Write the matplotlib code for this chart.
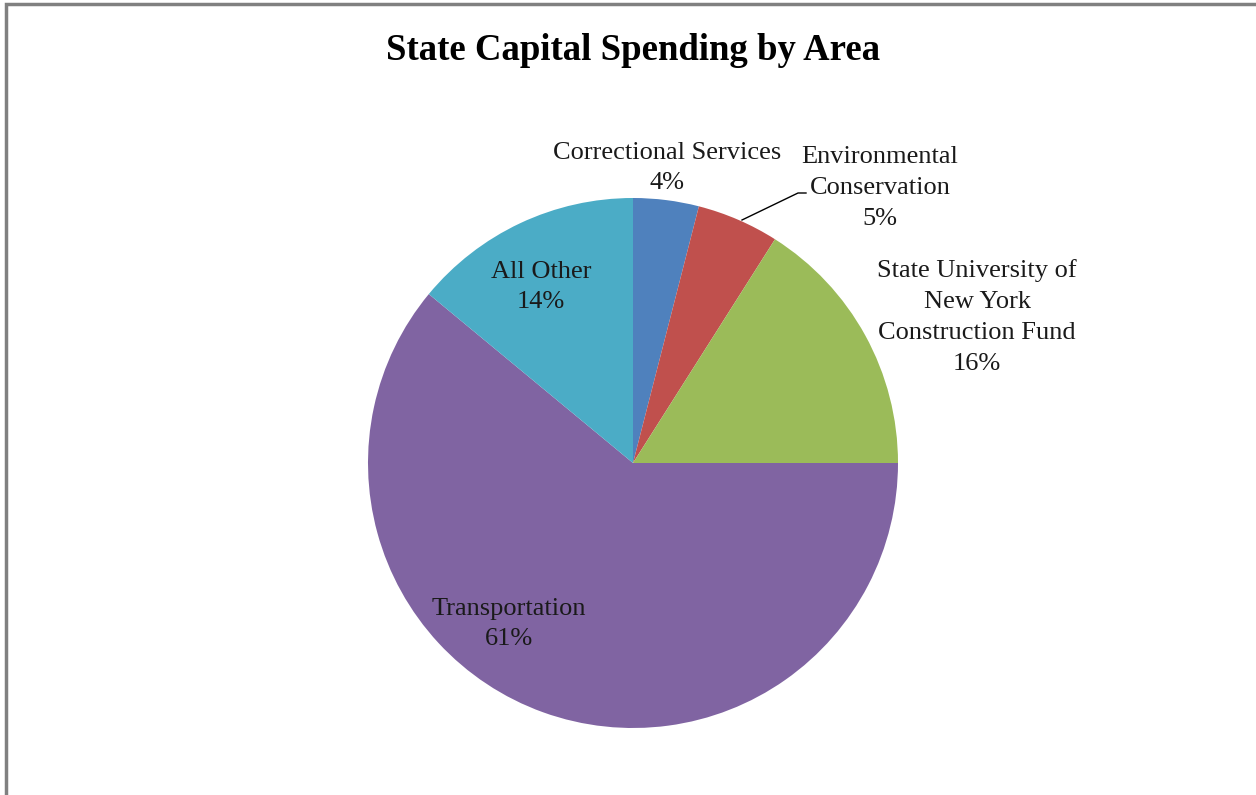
import matplotlib.pyplot as plt
from matplotlib.patches import Rectangle

# datos del grafico
areas = ['Correctional Services', 'Environmental\nConservation',
         'State University of\nNew York\nConstruction Fund', 'Transportation', 'All Other']
porcentajes = [4, 5, 16, 61, 14]
colores = ['#4F81BD', '#C0504D', '#9BBB59', '#8064A2', '#4BACC6']

W, H = 1256, 795
fig = plt.figure(figsize=(W / 100, H / 100), dpi=100)
ax = fig.add_axes([0, 0, 1, 1])

# marco gris del area del grafico (solo se ven borde izq. y superior)
ax.add_patch(Rectangle((6, -10), W + 20, H - 4 + 10, fill=False,
                       edgecolor='#808080', linewidth=2.5, clip_on=False))

cx, cy, r = 633, H - 463, 265
ax.pie(porcentajes, colors=colores, startangle=90, counterclock=False,
       center=(cx, cy), radius=r, frame=True,
       wedgeprops=dict(linewidth=0))
ax.set_xlim(0, W)
ax.set_ylim(0, H)
ax.set_aspect('equal')
ax.axis('off')

fuente = 'Liberation Serif'
ax.text(633, H - 50, 'State Capital Spending by Area', ha='center', va='center',
        fontsize=26.5, fontweight='bold', family=fuente)

# posiciones de las etiquetas en pixeles (x, y desde arriba)
pos = [(667, 168), (880, 188), (977, 317), (509, 624), (541, 287)]
for nombre, p, (px, py) in zip(areas, porcentajes, pos):
    ax.text(px, H - py, f'{nombre}\n{p}%', ha='center', va='center',
            fontsize=19, family=fuente, linespacing=1.52, color='#1a1a1a')

# linea guia de Environmental Conservation
ax.plot([742, 798, 806], [H - 220, H - 193, H - 193], color='black', lw=1)

fig.savefig('out.png', dpi=100)
